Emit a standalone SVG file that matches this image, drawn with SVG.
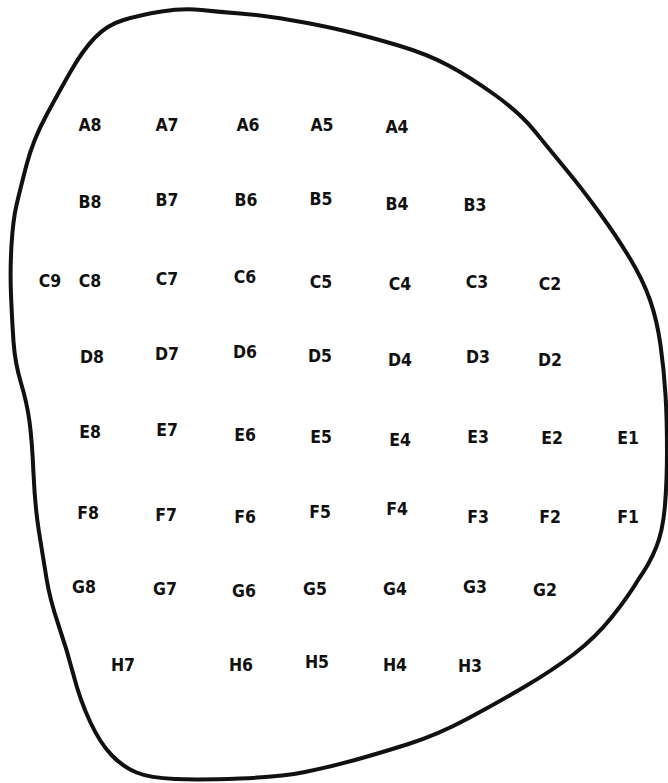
<svg xmlns="http://www.w3.org/2000/svg" width="668" height="783" viewBox="0 0 668 783">
<style>
.o{fill:none;stroke:#111;stroke-width:4;stroke-linejoin:round}
text{font-family:"DejaVu Sans Condensed","DejaVu Sans",sans-serif;font-weight:bold;font-size:17.5px;fill:#111;text-anchor:middle}
</style>
<rect width="668" height="783" fill="#fff"/>
<g id="outline">
<path class="o" d="M161.5,11.5 Q183,8 201.5,10 Q220,12 240,13.5 Q260,15 290,20 Q320,25 345,31 Q370,37 398.5,45.5 Q427,54 448.5,65.5 Q470,77 495,95 Q520,113 535,131.5 Q550,150 566.5,170 Q583,190 600,213.5 Q617,237 630,258.5 Q643,280 650,300 Q657,320 660.5,345 Q664,370 665.5,395 Q667,420 667,450 Q667,480 665,505 Q663,530 656.5,546.5 Q650,563 639,578.5 Q628,597 611.5,617.5 Q595,638 574,654 Q553,670 525,686.5 Q497,703 467,719 Q437,735 408.5,744 Q380,753 355,760 Q330,767 305,772 Q280,777 240,778.5 Q200,780 175,779 Q150,778 136.5,772.5 Q123,767 111.5,755 Q100,743 90,721.5 Q80,700 73.5,675 Q67,650 58.5,625 Q50,600 46.5,578.5 Q43,557 39,532 Q35,507 33.5,473.5 Q32,440 29.5,421.5 Q27,403 21,383 Q15,363 13.5,341.5 Q12,320 11,295 Q10,270 11.5,245 Q13,220 16.5,205 Q20,190 26.5,165 Q33,140 46.5,115 Q60,90 71.5,70 Q83,50 95,37.5 Q107,25 123.5,20 Q140,15 161.5,11.5 Z"/>
</g>
<g id="labels">
<g id="A8"><text x="90" y="131">A8</text></g>
<g id="A7"><text x="167" y="131">A7</text></g>
<g id="A6"><text x="248" y="131">A6</text></g>
<g id="A5"><text x="322" y="131">A5</text></g>
<g id="A4"><text x="397" y="133">A4</text></g>
<g id="B8"><text x="90" y="208">B8</text></g>
<g id="B7"><text x="167" y="206">B7</text></g>
<g id="B6"><text x="246" y="206">B6</text></g>
<g id="B5"><text x="321" y="205">B5</text></g>
<g id="B4"><text x="397" y="210">B4</text></g>
<g id="B3"><text x="475" y="211">B3</text></g>
<g id="C9"><text x="50" y="287">C9</text></g>
<g id="C8"><text x="90" y="287">C8</text></g>
<g id="C7"><text x="167" y="285">C7</text></g>
<g id="C6"><text x="245" y="283">C6</text></g>
<g id="C5"><text x="321" y="288">C5</text></g>
<g id="C4"><text x="400" y="290">C4</text></g>
<g id="C3"><text x="477" y="288">C3</text></g>
<g id="C2"><text x="550" y="290">C2</text></g>
<g id="D8"><text x="92" y="363">D8</text></g>
<g id="D7"><text x="167" y="360">D7</text></g>
<g id="D6"><text x="245" y="358">D6</text></g>
<g id="D5"><text x="320" y="362">D5</text></g>
<g id="D4"><text x="400" y="366">D4</text></g>
<g id="D3"><text x="478" y="363">D3</text></g>
<g id="D2"><text x="550" y="366">D2</text></g>
<g id="E8"><text x="90" y="438">E8</text></g>
<g id="E7"><text x="167" y="436">E7</text></g>
<g id="E6"><text x="245" y="441">E6</text></g>
<g id="E5"><text x="321" y="443">E5</text></g>
<g id="E4"><text x="400" y="446">E4</text></g>
<g id="E3"><text x="478" y="443">E3</text></g>
<g id="E2"><text x="552" y="444">E2</text></g>
<g id="E1"><text x="628" y="444">E1</text></g>
<g id="F8"><text x="88" y="519">F8</text></g>
<g id="F7"><text x="166" y="521">F7</text></g>
<g id="F6"><text x="245" y="523">F6</text></g>
<g id="F5"><text x="320" y="518">F5</text></g>
<g id="F4"><text x="397" y="515">F4</text></g>
<g id="F3"><text x="478" y="523">F3</text></g>
<g id="F2"><text x="550" y="523">F2</text></g>
<g id="F1"><text x="628" y="523">F1</text></g>
<g id="G8"><text x="84" y="593">G8</text></g>
<g id="G7"><text x="165" y="595">G7</text></g>
<g id="G6"><text x="244" y="597">G6</text></g>
<g id="G5"><text x="315" y="595">G5</text></g>
<g id="G4"><text x="395" y="595">G4</text></g>
<g id="G3"><text x="475" y="593">G3</text></g>
<g id="G2"><text x="545" y="596">G2</text></g>
<g id="H7"><text x="123" y="671">H7</text></g>
<g id="H6"><text x="241" y="671">H6</text></g>
<g id="H5"><text x="317" y="668">H5</text></g>
<g id="H4"><text x="395" y="671">H4</text></g>
<g id="H3"><text x="470" y="672">H3</text></g>
</g>
</svg>
